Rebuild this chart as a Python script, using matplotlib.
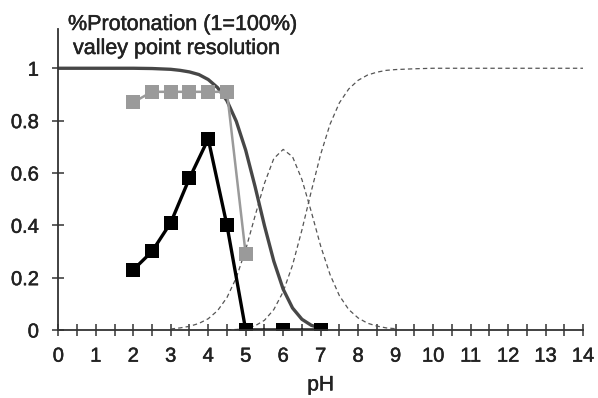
import matplotlib
matplotlib.use("Agg")
import matplotlib.pyplot as plt
import matplotlib.patheffects as pe
from matplotlib.ticker import MultipleLocator

# measured series (squares)
ph_points = [2, 2.5, 3, 3.5, 4, 4.5, 5, 6, 7]
valley_black = [0.23, 0.30, 0.41, 0.58, 0.73, 0.40, 0.0, 0.0, 0.0]
ph_gray = [2, 2.5, 3, 3.5, 4, 4.5, 5]
valley_gray = [0.87, 0.91, 0.91, 0.91, 0.91, 0.91, 0.29]

# fully protonated form (solid curve)
ph_solid = [0, 1, 2, 2.5, 3, 3.25, 3.5, 3.75, 4, 4.25, 4.5, 4.75, 5, 5.25,
            5.5, 5.75, 6, 6.25, 6.5, 6.75, 7]
frac_solid = [1.0, 1.0, 1.0, 0.999, 0.996, 0.992, 0.986, 0.976, 0.957, 0.926,
              0.876, 0.797, 0.687, 0.548, 0.399, 0.263, 0.156, 0.084, 0.041,
              0.018, 0.007]

# intermediate form (dashed bell)
ph_bell = [3, 3.25, 3.5, 3.75, 4, 4.25, 4.5, 4.75, 5, 5.25, 5.5, 5.75, 6,
           6.25, 6.5, 6.75, 7, 7.25, 7.5, 7.75, 8, 8.25, 8.5, 8.75, 9]
frac_bell = [0.004, 0.008, 0.014, 0.025, 0.043, 0.074, 0.124, 0.200, 0.307,
             0.436, 0.560, 0.655, 0.690, 0.662, 0.575, 0.452, 0.321, 0.212,
             0.131, 0.078, 0.046, 0.026, 0.015, 0.008, 0.005]

# deprotonated form (dashed rising curve)
ph_rise = [4.5, 4.75, 5, 5.25, 5.5, 5.75, 6, 6.25, 6.5, 6.75, 7, 7.25, 7.5,
           7.75, 8, 8.25, 8.5, 8.75, 9, 9.5, 10, 14]
frac_rise = [0.001, 0.002, 0.006, 0.016, 0.037, 0.078, 0.146, 0.248, 0.382,
             0.530, 0.671, 0.786, 0.868, 0.921, 0.954, 0.974, 0.985, 0.992,
             0.995, 0.998, 1.0, 1.0]

plt.rcParams["font.family"] = ["Liberation Sans", "DejaVu Sans"]
TXT = "#222222"
# scanned-looking text is a little heavier than the regular face
heavy = [pe.withStroke(linewidth=0.35, foreground=TXT)]

fig = plt.figure(figsize=(5.98, 3.98), dpi=100)
ax = fig.add_axes([58.3 / 598, 68 / 398, (583 - 58.3) / 598, 301 / 398])

dash_kw = dict(color="#555555", lw=0.9, dashes=(3.5, 2.5))
ax.plot(ph_bell, frac_bell, **dash_kw)
ax.plot(ph_rise, frac_rise, **dash_kw)
ax.plot(ph_solid, frac_solid, color="#474747", lw=2.4, solid_capstyle="round")
ax.plot(ph_gray, valley_gray, color="#9a9a9a", lw=1.8, marker="s",
        markersize=9.5, markeredgewidth=0)
ax.plot(ph_points, valley_black, color="black", lw=2.4, marker="s",
        markersize=10, markeredgewidth=0)

ax.set_xlim(0, 14)
ax.set_ylim(0, 1.15)
ax.xaxis.set_major_locator(MultipleLocator(1))
ax.xaxis.set_minor_locator(MultipleLocator(0.5))
ax.set_yticks([0, 0.2, 0.4, 0.6, 0.8, 1.0])
ax.set_yticklabels(["0", "0.2", "0.4", "0.6", "0.8", "1"])

for side in ("top", "right"):
    ax.spines[side].set_visible(False)
for side in ("left", "bottom"):
    ax.spines[side].set_color("#333333")
    ax.spines[side].set_linewidth(1.3)

ax.tick_params(which="both", direction="inout", length=8, width=1.1,
               color="#333333", labelsize=14.5, labelcolor=TXT)
ax.tick_params(axis="x", pad=8)
ax.tick_params(axis="y", pad=10)
for lbl in ax.get_xticklabels() + ax.get_yticklabels():
    lbl.set_path_effects(heavy)

ax.set_xlabel("pH", fontsize=15, color=TXT, labelpad=7, path_effects=heavy)

fig.text(68 / 598, 1 - 30 / 398, "%Protonation (1=100%)", fontsize=15.5,
         color=TXT, va="baseline", ha="left", path_effects=heavy)
fig.text(73 / 598, 1 - 54 / 398, "valley point resolution", fontsize=15.5,
         color=TXT, va="baseline", ha="left", path_effects=heavy)

fig.savefig("out.png", dpi=100)
